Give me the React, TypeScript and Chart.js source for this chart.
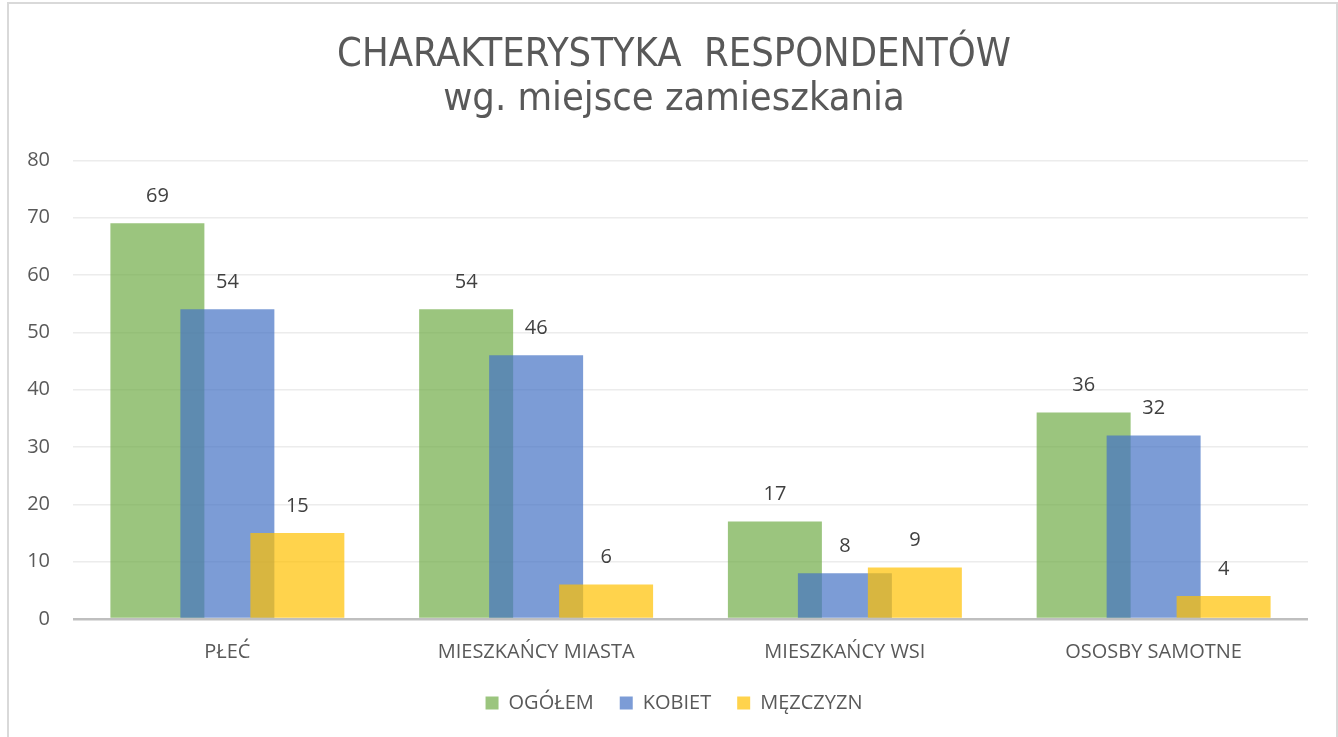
import React, { useEffect, useRef } from "react";
import { Chart, registerables } from "chart.js";

Chart.register(...registerables);

const categories = ["PŁEĆ", "MIESZKAŃCY MIASTA", "MIESZKAŃCY WSI", "OSOSBY SAMOTNE"];
const seriesNames = ["OGÓŁEM", "KOBIET", "MĘZCZYZN"];
const ogolem = [69, 54, 17, 36];
const kobiet = [54, 46, 8, 32];
const mezczyzn = [15, 6, 9, 4];
const titleLines = ["CHARAKTERYSTYKA  RESPONDENTÓW", "wg. miejsce zamieszkania"];
const yMin = 0;
const yMax = 80;
const yStep = 10;

const colors = ["rgba(112,173,71,0.7)", "rgba(68,114,196,0.7)", "rgba(255,192,0,0.7)"];
const TEXT = "#595959";
const SMALL_FONT = "'Open Sans', sans-serif";
const TITLE_FONT = "'DejaVu Sans Condensed', sans-serif";

// Let the y tick labels extend left of the (narrow) y scale box.
const unclipYLabels = {
  id: "unclipYLabels",
  afterLayout(chart: any) {
    const y = chart.scales.y;
    if (y) y._computeLabelArea = () => undefined;
  },
};

// Draw datasets in index order (later series on top), then value labels.
const orderedBarsAndLabels = {
  id: "orderedBarsAndLabels",
  beforeDatasetsDraw(chart: any) {
    const ctx = chart.ctx;
    const n = chart.data.datasets.length;
    for (let i = 0; i < n; i++) {
      const meta = chart.getDatasetMeta(i);
      if (!meta.hidden) meta.controller.draw();
    }
    ctx.save();
    ctx.font = `20px ${SMALL_FONT}`;
    ctx.fillStyle = "#404040";
    ctx.textAlign = "center";
    ctx.textBaseline = "middle";
    for (let i = 0; i < n; i++) {
      const ds = chart.data.datasets[i];
      const meta = chart.getDatasetMeta(i);
      meta.data.forEach((bar: any, j: number) => {
        ctx.fillText(String(ds.data[j]), bar.x, bar.y - 27);
      });
    }
    ctx.restore();
    return false;
  },
};

export default function App() {
  const ref = useRef<HTMLCanvasElement | null>(null);
  useEffect(() => {
    if (!ref.current) return;
    const data = [ogolem, kobiet, mezczyzn];
    const chart = new Chart(ref.current, {
      type: "bar",
      data: {
        labels: categories,
        datasets: seriesNames.map((name, i) => ({
          label: name,
          data: data[i],
          backgroundColor: colors[i],
          borderWidth: 0,
          categoryPercentage: 0.68,
          barPercentage: 1.343,
        })),
      },
      options: {
        animation: false,
        responsive: false,
        maintainAspectRatio: false,
        layout: { padding: { left: 40, right: 30, top: 0, bottom: 14 } },
        plugins: {
          title: {
            display: true,
            text: titleLines,
            color: TEXT,
            font: { family: TITLE_FONT, size: 39.5, weight: "normal", lineHeight: 1.13 },
            padding: { top: 33, bottom: 38 },
          },
          legend: {
            display: true,
            position: "bottom",
            labels: {
              color: TEXT,
              font: { family: SMALL_FONT, size: 20 },
              boxWidth: 13,
              boxHeight: 13,
              padding: 26,
            },
          },
          tooltip: { enabled: false },
        },
        scales: {
          x: {
            grid: { display: false },
            border: { display: false },
            ticks: { color: TEXT, font: { family: SMALL_FONT, size: 20 }, padding: 13 },
            afterFit: (s: any) => {
              s.height = 48;
            },
          },
          y: {
            min: yMin,
            max: yMax,
            border: { display: false },
            grid: {
              drawTicks: false,
              color: (c: any) => (c.tick && c.tick.value === 0 ? "#bfbfbf" : "#ececec"),
              lineWidth: (c: any) => (c.tick && c.tick.value === 0 ? 2.5 : 1.5),
            },
            ticks: {
              stepSize: yStep,
              color: TEXT,
              font: { family: SMALL_FONT, size: 20 },
              padding: 23,
            },
            afterFit: (s: any) => {
              s.width = 33;
            },
          },
        },
      },
      plugins: [unclipYLabels, orderedBarsAndLabels],
    });
    return () => chart.destroy();
  }, []);

  return (
    <div
      style={{
        position: "absolute",
        left: 0,
        top: 0,
        width: 1338,
        height: 737,
        overflow: "hidden",
        background: "#fff",
      }}
    >
      <div
        style={{
          position: "absolute",
          left: 7,
          top: 2,
          width: 1331,
          height: 800,
          border: "2px solid #d9d9d9",
          boxSizing: "border-box",
        }}
      />
      <canvas ref={ref} width={1338} height={737} style={{ position: "absolute", left: 0, top: 0 }} />
    </div>
  );
}
